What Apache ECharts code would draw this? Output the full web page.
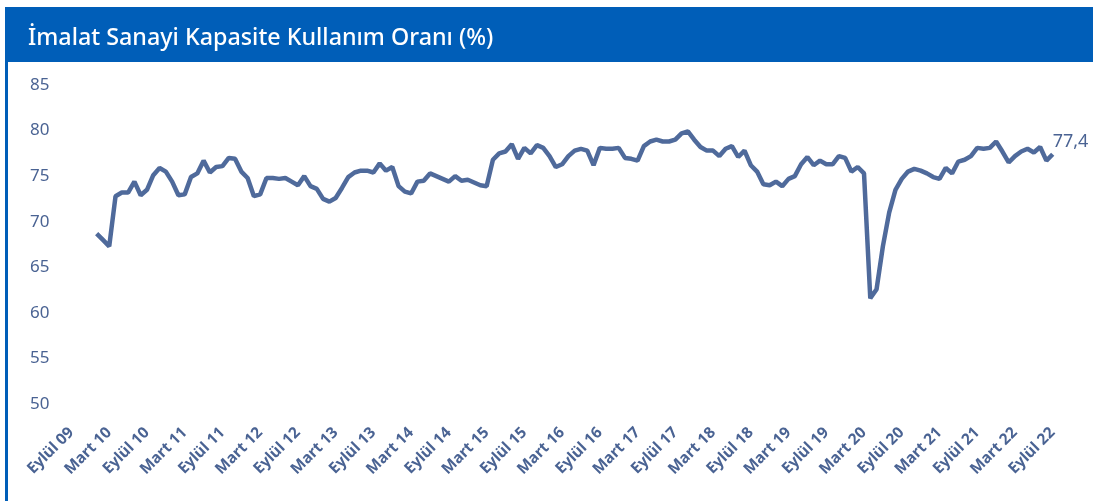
<!DOCTYPE html>
<html>
<head>
<meta charset="utf-8">
<script src="https://cdn.jsdelivr.net/npm/echarts@6/dist/echarts.min.js"></script>
<style>
  html, body { margin: 0; padding: 0; background: #fff; }
  #chart { width: 1093px; height: 501px; }
</style>
</head>
<body>
<div id="chart"></div>
<script>
// ay isimleri (eksen etiketleri bunlardan kuruluyor)
const ayAdlari = ["Ocak", "Şubat", "Mart", "Nisan", "Mayıs", "Haziran",
  "Temmuz", "Ağustos", "Eylül", "Ekim", "Kasım", "Aralık"];

// kapasite kullanım oranı, aylık (Ocak - Aralık)
const kko2010 = [68.7, 68.0, 67.3, 72.8, 73.2, 73.2, 74.4, 72.9, 73.5, 75.1, 75.9, 75.5];
const kko2011 = [74.4, 72.9, 73.0, 74.9, 75.3, 76.7, 75.4, 76.0, 76.1, 77.0, 76.9, 75.5];
const kko2012 = [74.8, 72.8, 73.0, 74.8, 74.8, 74.7, 74.8, 74.4, 74.0, 75.0, 73.9, 73.6];
const kko2013 = [72.5, 72.2, 72.6, 73.7, 74.9, 75.4, 75.6, 75.6, 75.4, 76.4, 75.6, 76.0];
const kko2014 = [73.9, 73.3, 73.1, 74.4, 74.5, 75.3, 75.0, 74.7, 74.4, 75.0, 74.5, 74.6];
const kko2015 = [74.3, 74.0, 73.9, 76.8, 77.5, 77.7, 78.5, 76.9, 78.1, 77.5, 78.4, 78.1];
const kko2016 = [77.2, 76.0, 76.3, 77.2, 77.8, 78.0, 77.8, 76.2, 78.1, 78.0, 78.0, 78.1];
const kko2017 = [77.0, 76.9, 76.7, 78.3, 78.8, 79.0, 78.8, 78.8, 79.0, 79.7, 79.9, 79.0];
const kko2018 = [78.2, 77.8, 77.8, 77.2, 78.0, 78.3, 77.1, 77.8, 76.2, 75.5, 74.1, 74.0];
const kko2019 = [74.4, 73.9, 74.7, 75.0, 76.3, 77.1, 76.2, 76.7, 76.3, 76.3, 77.2, 77.0];
const kko2020 = [75.5, 76.0, 75.3, 61.6, 62.6, 67.3, 71.0, 73.5, 74.7, 75.5, 75.8, 75.6];
const kko2021 = [75.3, 74.9, 74.7, 75.9, 75.3, 76.6, 76.8, 77.2, 78.1, 78.0, 78.1, 78.8];
const kko2022 = [77.7, 76.5, 77.2, 77.7, 78.0, 77.6, 78.2, 76.7, 77.4];

// eksen Eylül 09'dan başlıyor, veri Ocak 2010'dan
const bosAylar2009 = [null, null, null, null];

const yTicks = { min: 50, max: 85, step: 5 };

const categories = [];
for (let y = 2009; y <= 2022; y++) {
  for (let a = 0; a < 12; a++) {
    if (y === 2009 && a < 8) continue;
    if (y === 2022 && a > 8) continue;
    categories.push(ayAdlari[a] + " " + String(y).slice(2));
  }
}

const values = [].concat(bosAylar2009, kko2010, kko2011, kko2012, kko2013, kko2014,
  kko2015, kko2016, kko2017, kko2018, kko2019, kko2020, kko2021, kko2022);

const chart = echarts.init(document.getElementById("chart"));

const textColor = "#4a6393";
const lineColor = "#4f6a9b";
const headerBlue = "#005eb8";

chart.setOption({
  animation: false,
  title: {
    text: "İmalat Sanayi Kapasite Kullanım Oranı (%)",
    left: 28,
    top: 27,
    padding: 0,
    z: 10,
    textStyle: {
      color: "#ffffff",
      fontFamily: "Noto Sans",
      fontWeight: 500,
      fontSize: 23.3
    }
  },
  graphic: [
    // başlık şeridi
    { type: "rect", z: 1, shape: { x: 5, y: 7, width: 1088, height: 55 }, style: { fill: headerBlue } },
    // sol kenar çizgisi
    { type: "rect", z: 1, shape: { x: 5, y: 7, width: 3, height: 494 }, style: { fill: headerBlue } }
  ],
  grid: {
    left: 71.5,
    right: 40.3,
    top: 85,
    bottom: 97
  },
  xAxis: {
    type: "category",
    boundaryGap: false,
    data: categories,
    axisLine: { show: false },
    axisTick: { show: false },
    axisLabel: {
      interval: 5,
      rotate: 45,
      margin: 26,
      color: textColor,
      fontFamily: "Noto Sans",
      fontWeight: "bold",
      fontSize: 15.5
    }
  },
  yAxis: {
    type: "value",
    min: yTicks.min,
    max: yTicks.max,
    interval: yTicks.step,
    axisLine: { show: false },
    axisTick: { show: false },
    splitLine: { show: false },
    axisLabel: {
      margin: 22,
      color: textColor,
      fontFamily: "Noto Sans",
      fontSize: 17
    }
  },
  series: [
    {
      type: "line",
      data: values,
      showSymbol: false,
      symbol: "none",
      lineStyle: { color: lineColor, width: 4.5 },
      endLabel: {
        show: true,
        offset: [-8, -12],
        color: textColor,
        fontFamily: "Noto Sans",
        fontSize: 18,
        formatter: (p) => String(p.value).replace(".", ",")
      }
    }
  ]
});
</script>
</body>
</html>
